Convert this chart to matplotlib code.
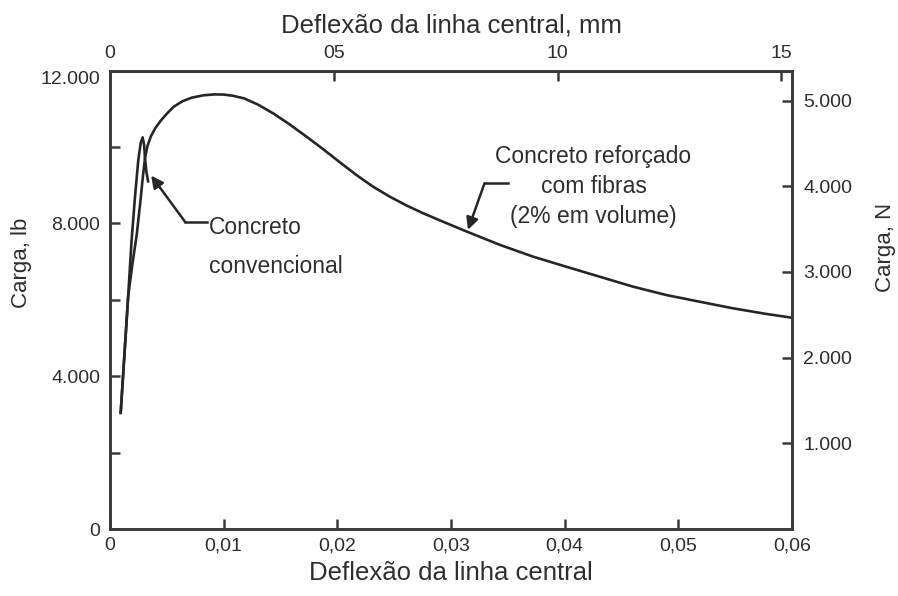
import matplotlib
matplotlib.use("Agg")
import matplotlib.pyplot as plt

plt.rcParams['font.family'] = ['Liberation Sans', 'DejaVu Sans']

ink = '#262626'
txt = '#2e2e2e'

# deflexão (in) x carga (lb) - concreto reforçado com fibras
x_fibras = [0.00094, 0.0016, 0.0020, 0.00235, 0.0027, 0.0029, 0.0031, 0.0033,
            0.0036, 0.0040, 0.0045, 0.0050, 0.0056, 0.0064, 0.0072, 0.0082,
            0.0092, 0.0100, 0.0108, 0.0118, 0.0130, 0.01435, 0.0158, 0.01728,
            0.0188, 0.02021, 0.0217, 0.02314, 0.0246, 0.02607, 0.0275, 0.0290,
            0.03134, 0.03427, 0.0372, 0.04013, 0.04306, 0.04599, 0.04892,
            0.05185, 0.05478, 0.05771, 0.0600]
y_fibras = [3040, 6100, 7000, 7700, 8650, 9250, 9750, 10030,
            10280, 10500, 10700, 10870, 11050, 11200, 11290, 11350,
            11375, 11370, 11340, 11270, 11110, 10880, 10590, 10270,
            9930, 9600, 9260, 8960, 8700, 8470, 8270, 8080,
            7790, 7440, 7130, 6865, 6605, 6345, 6125,
            5950, 5778, 5630, 5530]

# concreto convencional
x_conv = [0.00094, 0.0016, 0.0019, 0.0022, 0.00249, 0.0027, 0.00287, 0.0030,
          0.00308, 0.0032, 0.00335]
y_conv = [3040, 6100, 7560, 8700, 9660, 10100, 10250, 10050,
          9700, 9350, 9100]

x_ticks = [0, 0.01, 0.02, 0.03, 0.04, 0.05, 0.06]
x_labels = ['0', '0,01', '0,02', '0,03', '0,04', '0,05', '0,06']
lb_ticks = [0, 4000, 8000, 12000]
lb_labels = ['0', '4.000', '8.000', '12.000']
lb_minor = [2000, 6000, 10000]
n_ticks = [1000, 2000, 3000, 4000, 5000]
n_labels = ['1.000', '2.000', '3.000', '4.000', '5.000']
mm_ticks = [0, 0.5, 1.0, 1.5]
mm_labels = ['0', '05', '10', '15']

fig = plt.figure(figsize=(8.98, 5.96), dpi=100)
ax = fig.add_axes([0.1225, 0.1124, 0.7595, 0.7693])

ax.plot(x_fibras, y_fibras, color=ink, lw=1.9, solid_joinstyle='round')
ax.plot(x_conv, y_conv, color=ink, lw=1.9, solid_joinstyle='round')

ax.set_xlim(0, 0.06)
ax.set_ylim(0, 12000)
ax.set_xticks(x_ticks, labels=x_labels)
ax.set_yticks(lb_ticks, labels=lb_labels)
ax.set_yticks(lb_minor, minor=True)

for s in ax.spines.values():
    s.set_linewidth(1.9)
    s.set_color('#3a3a3a')

tick_kw = dict(direction='in', length=7.5, width=1.8, color='#3a3a3a',
               labelsize=14, labelcolor=txt)
ax.tick_params(axis='both', which='both', **tick_kw)
ax.tick_params(axis='x', pad=6)
ax.tick_params(axis='y', pad=7)
ax.yaxis.get_major_ticks()[-1].label1.set_verticalalignment('top')

ax.set_xlabel('Deflexão da linha central', fontsize=18.5, color=txt, labelpad=5)
ax.set_ylabel('Carga, lb', fontsize=16, color=txt)
ax.yaxis.set_label_coords(-0.114, 0.58)

# escala em newtons à direita
ax2 = ax.twinx()
ax2.set_ylim(0, 5351)
ax2.set_yticks(n_ticks, labels=n_labels)
ax2.tick_params(axis='y', pad=8, **tick_kw)
for s in ax2.spines.values():
    s.set_linewidth(1.9)
    s.set_color('#3a3a3a')
ax2.set_ylabel('Carga, N', fontsize=16, color=txt)
ax2.yaxis.set_label_coords(1.121, 0.615)

# escala em milímetros no topo
top = ax.secondary_xaxis('top', functions=(lambda x: x * 25.4, lambda m: m / 25.4))
top.set_xticks(mm_ticks, labels=mm_labels)
top.tick_params(pad=6, **tick_kw)
top.spines['top'].set_linewidth(1.9)
top.spines['top'].set_color('#3a3a3a')
top.set_xlabel('Deflexão da linha central, mm', fontsize=18.5, color=txt, labelpad=9)

arrow = dict(arrowstyle='-|>', color=ink, lw=1.8, mutation_scale=18,
             shrinkA=0, shrinkB=0)

# rótulo do concreto convencional
ax.plot([0.00659, 0.0085], [8045, 8045], color=ink, lw=1.8)
ax.annotate('', xy=(0.00362, 9250), xytext=(0.00659, 8045), arrowprops=arrow)
ax.text(0.0087, 7900, 'Concreto', fontsize=16.5, color=txt, va='center', ha='left')
ax.text(0.0087, 6860, 'convencional', fontsize=16.5, color=txt, va='center', ha='left')

# rótulo do concreto com fibras
ax.plot([0.03295, 0.03497], [9051, 9051], color=ink, lw=1.8)
ax.annotate('', xy=(0.03149, 7830), xytext=(0.03295, 9051), arrowprops=arrow)
ax.text(0.04253, 9747, 'Concreto reforçado', fontsize=16.5, color=txt, ha='center', va='center')
ax.text(0.04253, 8962, 'com fibras', fontsize=16.5, color=txt, ha='center', va='center')
ax.text(0.04253, 8176, '(2% em volume)', fontsize=16.5, color=txt, ha='center', va='center')

fig.savefig('out.png', dpi=100)
